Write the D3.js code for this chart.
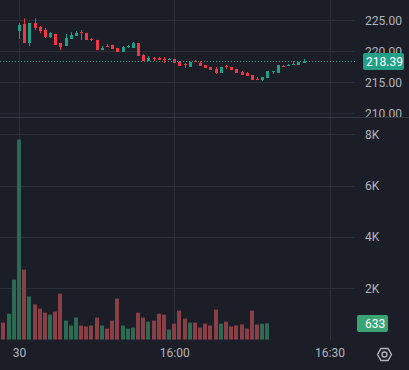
<!DOCTYPE html>
<html>
<head>
<meta charset="utf-8">
<script src="https://cdn.jsdelivr.net/npm/d3@7/dist/d3.min.js"></script>
<style>
  body { margin: 0; background: #1b1e27; }
  svg { display: block; }
</style>
</head>
<body>
<div id="chart"></div>
<script>
// bar index of the first candle (15:30 on the 30th); volume starts at bar 0
const FIRST_CANDLE = 3

const open  = [223.27, 224.40, 221.34, 224.56, 223.92, 223.44, 222.31, 222.79, 221.34, 220.85,
               221.98, 222.47, 223.10, 222.95, 221.98, 221.82, 220.20, 220.85, 221.02, 220.53,
               219.89, 220.69, 220.53, 221.34, 219.40, 218.43, 218.92, 218.92, 218.76, 218.60,
               218.76, 218.27, 217.95, 217.47, 218.43, 218.11, 217.79, 217.47, 217.15, 216.50,
               217.63, 217.47, 217.15, 216.66, 216.50, 216.18, 215.53, 215.37, 215.69, 216.66,
               216.50, 217.63, 217.63, 217.79, 217.79, 218.11]
const high  = [224.56, 225.30, 224.56, 225.30, 224.08, 223.76, 223.10, 222.85, 221.40, 222.79,
               223.10, 223.27, 223.44, 223.00, 222.15, 221.85, 220.85, 221.18, 221.05, 220.55,
               220.85, 221.02, 221.50, 221.36, 219.56, 219.24, 219.08, 219.08, 219.08, 218.92,
               218.78, 218.43, 218.11, 218.30, 218.60, 218.43, 217.80, 217.50, 217.47, 217.50,
               217.79, 217.50, 217.17, 216.82, 216.66, 216.20, 215.85, 215.85, 216.85, 216.82,
               217.80, 217.79, 217.95, 218.43, 218.30, 218.76]
const low   = [221.98, 221.34, 220.85, 223.40, 222.90, 222.15, 222.15, 221.02, 220.20, 220.85,
               221.98, 222.47, 221.82, 221.82, 221.66, 220.20, 220.20, 220.69, 220.37, 219.89,
               219.89, 220.53, 220.53, 219.24, 218.43, 218.43, 218.43, 218.60, 218.11, 218.60,
               218.11, 217.63, 217.31, 217.47, 218.27, 217.63, 217.31, 216.98, 216.34, 216.50,
               217.15, 216.98, 216.50, 216.18, 216.02, 215.37, 215.37, 215.20, 215.69, 216.34,
               216.50, 217.47, 217.63, 217.79, 217.79, 218.11]
const close = [224.24, 221.34, 224.56, 223.76, 223.27, 222.31, 222.95, 221.02, 220.69, 222.15,
               222.63, 222.95, 222.95, 221.82, 221.82, 220.20, 220.53, 220.69, 220.37, 219.89,
               220.69, 220.85, 221.34, 219.24, 218.43, 218.92, 218.76, 218.60, 218.60, 218.76,
               218.11, 217.63, 217.79, 218.27, 218.27, 217.63, 217.31, 216.98, 216.50, 217.47,
               217.47, 216.98, 216.50, 216.18, 216.02, 215.37, 215.37, 215.85, 216.82, 216.82,
               217.79, 217.47, 217.79, 217.95, 218.27, 218.39]

const volume = [660, 1010, 2340, 7800, 2730, 1680, 1370, 1210, 1050, 975,
                1090, 1790, 740, 550, 860, 550, 510, 550, 860, 550,
                430, 740, 1600, 550, 430, 470, 1050, 860, 700, 740,
                1010, 975, 390, 620, 1130, 820, 660, 660, 470, 620,
                550, 1170, 620, 700, 510, 550, 590, 430, 1130, 590,
                620, 633]
// direction of the volume bars that have no candle on screen
const earlyVolumeUp = [false, true, true]

const priceTicks  = [210, 215, 220, 225]
const volumeTicks = [2000, 4000, 6000, 8000]
const timeTicks   = [3, 33, 63]
const timeLabels  = ['30', '16:00', '16:30']
const lastPrice   = 218.39
const lastVolume  = 633

// layout
const W = 409, H = 370
const PLOT_RIGHT = 355
const PRICE_BOTTOM = 117
const FONT = 'Roboto, sans-serif'

const UP = '#22a085', DOWN = '#f23645'
const VOL_UP = '#2d6a53', VOL_DOWN = '#8a3e46'
const GRID = '#2a2e39', TEXT = '#b2b5be'

const candles = open.map((o, i) => ({
    i: i + FIRST_CANDLE, o: o, h: high[i], l: low[i], c: close[i]
}))
const vols = volume.map((v, i) => {
    const k = i - FIRST_CANDLE
    const up = k < 0 ? earlyVolumeUp[i] : close[k] >= open[k]
    return {i: i, v: v, up: up}
})

const x = d3.scaleLinear()
    .domain([timeTicks[0], timeTicks[2]])
    .range([19, 329.5])

const y = d3.scaleLinear()
    .domain([210, 225])
    .range([113.3, 20.3])

const yVol = d3.scaleLinear()
    .domain([0, 8000])
    .range([339.6, 134.4])

const svg = d3.select('#chart')
  .append('svg')
    .attr('width', W)
    .attr('height', H)
    .style('background', '#1b1e27')

const defs = svg.append('defs')
defs.append('clipPath')
    .attr('id', 'price-clip')
  .append('rect')
    .attr('x', 0).attr('y', 0)
    .attr('width', PLOT_RIGHT).attr('height', PRICE_BOTTOM - 1)
defs.append('clipPath')
    .attr('id', 'price-axis-clip')
  .append('rect')
    .attr('x', PLOT_RIGHT).attr('y', 0)
    .attr('width', W - PLOT_RIGHT).attr('height', PRICE_BOTTOM)

// grid
const grid = svg.append('g')
grid.selectAll('.hgrid')
    .data(priceTicks)
    .join('line')
      .attr('x1', 0).attr('x2', PLOT_RIGHT)
      .attr('y1', d => Math.round(y(d)) + 0.5)
      .attr('y2', d => Math.round(y(d)) + 0.5)
      .attr('stroke', GRID)
grid.selectAll('.vgrid')
    .data(volumeTicks)
    .join('line')
      .attr('x1', 0).attr('x2', PLOT_RIGHT)
      .attr('y1', d => Math.round(yVol(d)) + 0.5)
      .attr('y2', d => Math.round(yVol(d)) + 0.5)
      .attr('stroke', GRID)
grid.selectAll('.tgrid')
    .data(timeTicks)
    .join('line')
      .attr('x1', d => Math.round(x(d)) + 0.5)
      .attr('x2', d => Math.round(x(d)) + 0.5)
      .attr('y1', 0).attr('y2', 340)
      .attr('stroke', GRID)

// pane separator
svg.append('line')
    .attr('x1', 0).attr('x2', W)
    .attr('y1', PRICE_BOTTOM + 0.5).attr('y2', PRICE_BOTTOM + 0.5)
    .attr('stroke', '#343844')

// volume bars
svg.append('g')
  .selectAll('rect')
  .data(vols)
  .join('rect')
    .attr('x', d => Math.round(x(d.i) - 2))
    .attr('width', 4)
    .attr('y', d => yVol(d.v))
    .attr('height', d => yVol(0) - yVol(d.v))
    .attr('fill', d => d.up ? VOL_UP : VOL_DOWN)

// candles
const cg = svg.append('g').attr('clip-path', 'url(#price-clip)')
cg.selectAll('.wick')
  .data(candles)
  .join('line')
    .attr('x1', d => Math.round(x(d.i)) + 0.5)
    .attr('x2', d => Math.round(x(d.i)) + 0.5)
    .attr('y1', d => y(d.h))
    .attr('y2', d => y(d.l))
    .attr('stroke', d => d.c >= d.o ? UP : DOWN)
cg.selectAll('.body')
  .data(candles)
  .join('rect')
    .attr('x', d => Math.round(x(d.i)) - 1)
    .attr('width', 3)
    .attr('y', d => y(Math.max(d.o, d.c)))
    .attr('height', d => Math.max(1, Math.abs(y(d.o) - y(d.c))))
    .attr('fill', d => d.c >= d.o ? UP : DOWN)

// last price line
svg.append('line')
    .attr('x1', 0).attr('x2', PLOT_RIGHT)
    .attr('y1', Math.round(y(lastPrice)) + 0.5)
    .attr('y2', Math.round(y(lastPrice)) + 0.5)
    .attr('stroke', UP)
    .attr('stroke-dasharray', '1,2')

// price axis (labels cut at the pane edge)
const priceAxis = svg.append('g')
    .attr('clip-path', 'url(#price-axis-clip)')
  .append('g')
    .attr('transform', `translate(365, 0)`)
    .call(d3.axisRight(y).tickValues(priceTicks).tickFormat(d3.format('.2f')).tickSize(0).tickPadding(0))
priceAxis.select('.domain').remove()

// volume axis
const volAxis = svg.append('g')
    .attr('transform', `translate(365, 0)`)
    .call(d3.axisRight(yVol).tickValues(volumeTicks).tickFormat(d => d / 1000 + 'K').tickSize(0).tickPadding(0))
volAxis.select('.domain').remove()

// time axis
const timeAxis = svg.append('g')
    .attr('transform', `translate(0, 348.5)`)
    .call(d3.axisBottom(x).tickValues(timeTicks).tickFormat((d, i) => timeLabels[i]).tickSize(0).tickPadding(0))
timeAxis.select('.domain').remove()

svg.selectAll('.tick text')
    .attr('fill', TEXT)
    .style('font-family', FONT)
    .style('font-size', '12px')

// last price tag
const tag = svg.append('g')
tag.append('rect')
    .attr('x', 363).attr('y', Math.round(y(lastPrice)) - 8)
    .attr('width', 41).attr('height', 17)
    .attr('rx', 2)
    .attr('fill', UP)
tag.append('text')
    .attr('x', 366).attr('y', Math.round(y(lastPrice)) + 0.5)
    .attr('dy', '0.35em')
    .attr('fill', '#ffffff')
    .style('font-family', FONT)
    .style('font-size', '12px')
    .text(lastPrice.toFixed(2))

// last volume tag
const vtag = svg.append('g')
vtag.append('rect')
    .attr('x', 357).attr('y', 315)
    .attr('width', 31).attr('height', 17)
    .attr('rx', 2)
    .attr('fill', '#39a474')
vtag.append('text')
    .attr('x', 365).attr('y', 323.5)
    .attr('dy', '0.35em')
    .attr('fill', '#ffffff')
    .style('font-family', FONT)
    .style('font-size', '12px')
    .text(lastVolume)

// settings icon
const gear = svg.append('g').attr('transform', 'translate(384.5, 354.5)')
const hex = d3.range(6).map(k => [7 * Math.cos(k * Math.PI / 3), 7 * Math.sin(k * Math.PI / 3)])
gear.append('path')
    .attr('d', d3.line().curve(d3.curveLinearClosed)(hex))
    .attr('fill', 'none')
    .attr('stroke', TEXT)
    .attr('stroke-width', 1.4)
    .attr('stroke-linejoin', 'round')
gear.append('circle')
    .attr('r', 2.5)
    .attr('fill', 'none')
    .attr('stroke', TEXT)
    .attr('stroke-width', 1.4)
</script>
</body>
</html>
